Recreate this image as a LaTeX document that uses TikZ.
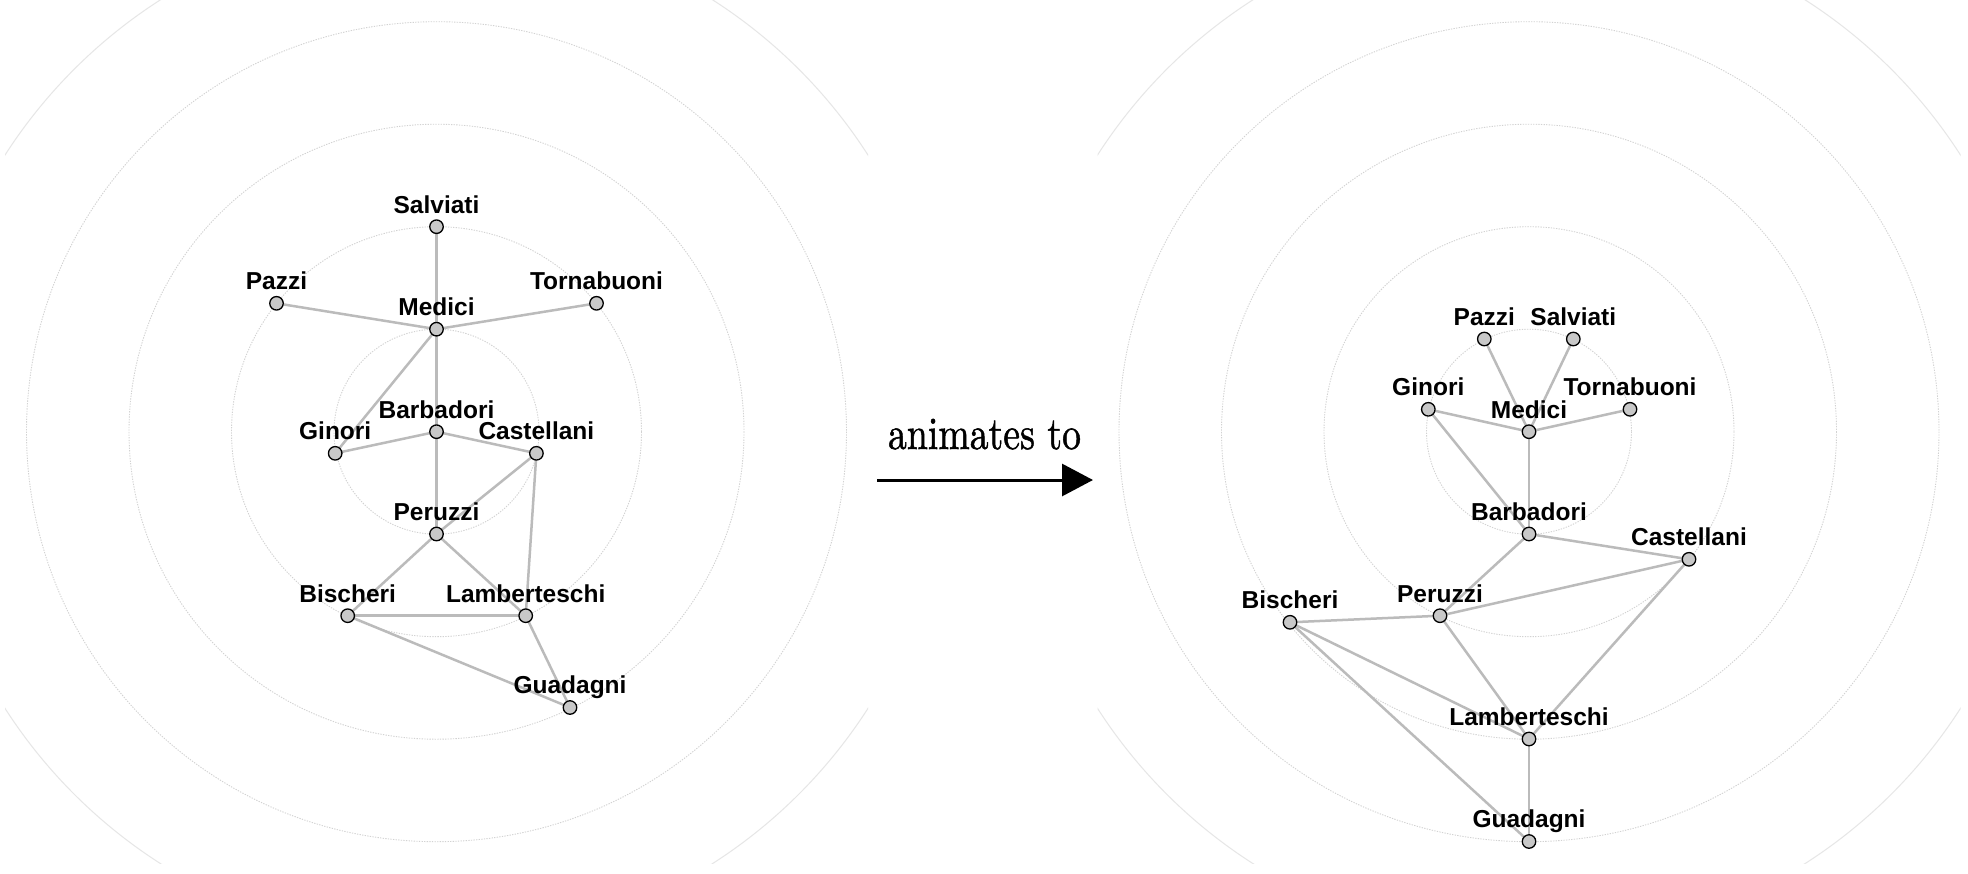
\documentclass[tikz,border=0pt]{standalone}
\usepackage{fontspec}
\newfontfamily\labelfont{Liberation Sans}
\newfontfamily\capfont{lmroman10-regular.otf}[FakeBold=1.2]
\usetikzlibrary{arrows.meta,backgrounds}
\definecolor{ringc}{HTML}{D2D2D2}
\definecolor{ringo}{HTML}{E6E6E6}
\definecolor{edgec}{HTML}{BBBBBB}
\definecolor{nodec}{HTML}{C8C8C8}
\begin{document}
\begin{tikzpicture}[x=1pt,y=-1pt,
  famlabel/.style={font=\labelfont\bfseries\fontsize{24.5}{24.5}\selectfont, anchor=base, label distance=6.3pt, inner sep=0pt, text=black},
  fam/.style={circle, draw=black, line width=1.3pt, fill=nodec, minimum size=13.5pt, inner sep=0pt, label={[famlabel]above:#1}},
  link/.style={draw=edgec, line width=2.5pt},
  ring/.style={draw=ringc, line width=0.9pt, dash pattern=on 1.3pt off 1.3pt},
  outerring/.style={draw=ringo, line width=1pt}]
\useasboundingbox (0,0) rectangle (1968,873);

% left graph nodes
\node[fam=Salviati]     (LSal) at (436.5,226.7) {};
\node[fam=Medici]       (LMed) at (436.5,329.2) {};
\node[fam=Pazzi]        (LPaz) at (276.5,303.3) {};
\node[fam=Tornabuoni]   (LTor) at (596.5,303.3) {};
\node[fam=Barbadori]    (LBar) at (436.5,431.7) {};
\node[fam=Ginori]       (LGin) at (335.2,453.3) {};
\node[fam=Castellani]   (LCas) at (536.4,453.3) {};
\node[fam=Peruzzi]      (LPer) at (436.5,534.0) {};
\node[fam=Bischeri]     (LBis) at (347.7,615.7) {};
\node[fam=Lamberteschi] (LLam) at (525.7,615.7) {};
\node[fam=Guadagni]     (LGua) at (570.0,707.5) {};

% right graph nodes
\node[fam=Pazzi]        (RPaz) at (1484.3,339.0) {};
\node[fam=Salviati]     (RSal) at (1573.3,339.0) {};
\node[fam=Ginori]       (RGin) at (1428.3,409.3) {};
\node[fam=Tornabuoni]   (RTor) at (1630.0,409.3) {};
\node[fam=Medici]       (RMed) at (1529.0,431.7) {};
\node[fam=Barbadori]    (RBar) at (1529.0,534.0) {};
\node[fam=Castellani]   (RCas) at (1689.0,559.3) {};
\node[fam=Peruzzi]      (RPer) at (1440.0,615.7) {};
\node[fam=Bischeri]     (RBis) at (1290.0,622.3) {};
\node[fam=Lamberteschi] (RLam) at (1529.0,739.0) {};
\node[fam=Guadagni]     (RGua) at (1529.0,841.5) {};

\begin{pgfonlayer}{background}
\fill[white] (0,0) rectangle (1968,873);
% rings, left panel
\begin{scope}
  \clip (5,0) rectangle (868,863);
  \coordinate (LC) at (436.5,431.7);
  \foreach \r in {102.5,205,307.5,410} \draw[ring] (LC) circle[radius=\r];
  \draw[outerring] (LC) circle[radius=512.5];
\end{scope}
% rings, right panel
\begin{scope}
  \clip (1097.5,0) rectangle (1960.5,863);
  \coordinate (RC) at (1529,431.7);
  \foreach \r in {102.5,205,307.5,410} \draw[ring] (RC) circle[radius=\r];
  \draw[outerring] (RC) circle[radius=512.5];
\end{scope}
% edges
\foreach \s in {L,R}{
  \draw[link] (\s Sal.center) -- (\s Med.center);
  \draw[link] (\s Paz.center) -- (\s Med.center);
  \draw[link] (\s Tor.center) -- (\s Med.center);
  \draw[link] (\s Gin.center) -- (\s Med.center);
  \draw[link] (\s Med.center) -- (\s Bar.center);
  \draw[link] (\s Gin.center) -- (\s Bar.center);
  \draw[link] (\s Bar.center) -- (\s Cas.center);
  \draw[link] (\s Bar.center) -- (\s Per.center);
  \draw[link] (\s Cas.center) -- (\s Per.center);
  \draw[link] (\s Cas.center) -- (\s Lam.center);
  \draw[link] (\s Per.center) -- (\s Bis.center);
  \draw[link] (\s Per.center) -- (\s Lam.center);
  \draw[link] (\s Bis.center) -- (\s Lam.center);
  \draw[link] (\s Bis.center) -- (\s Gua.center);
  \draw[link] (\s Lam.center) -- (\s Gua.center);
}
\end{pgfonlayer}

% arrow and caption
\node[font=\capfont\fontsize{46}{46}\selectfont, xscale=0.82, anchor=base, inner sep=0pt] (anim) at (984.5,449) {animates to};
\coordinate (arrS) at (877,480);
\coordinate (arrE) at (1093,480);
\draw[line width=3pt, -{Triangle[length=31pt,width=32pt]}] (arrS) -- (arrE);
\end{tikzpicture}
\end{document}
